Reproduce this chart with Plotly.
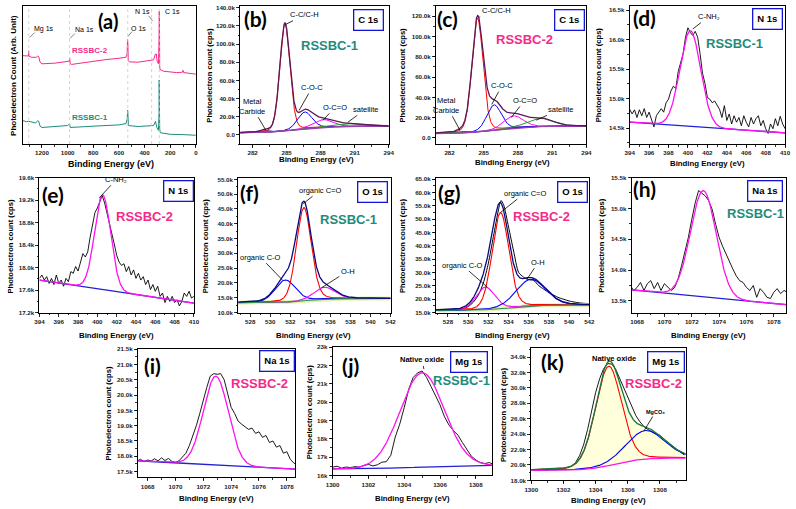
import numpy as np
import plotly.graph_objects as go

W, H = 796, 509
FONT = "Liberation Sans, Arial, sans-serif"
LFONT = "Lato, Liberation Sans, sans-serif"
PINK = "#f52a8a"
TEAL = "#1e8c7c"

# ---------------- DATA ----------------
# (a) survey, arbitrary units
survey2_be = [1350,1320,1306,1304,1301,1280,1245,1232,1225,1215,1200,1100,1000,988,984,980,970,900,800,700,600,545,536,533,530,527,520,450,400,330,315,308,302,292,287,286,284,282,278,250,200,150,105,100,95,50,0]
survey2_cnt = [272,271,271,287,270,267,267,271,269,252,247,249,253,255,265,247,245,249,255,260,264,267,277,322,309,257,253,252,255,259,277,277,255,247,327,409,402,237,229,224,221,220,221,227,220,218,215]
survey1_be = [1350,1320,1304,1250,1232,1225,1215,1200,1000,985,980,900,800,600,545,535,532,529,526,450,330,315,305,292,287,286,284,282,278,200,100,0]
survey1_cnt = [72,69,70,65,72,70,55,51,57,62,51,52,55,59,63,77,104,87,57,54,57,70,52,42,97,197,187,47,35,30,29,27]
survey_lines_be = [1303, 985, 531, 345, 285]
survey_labels = ["Mg 1s", "Na 1s", "O 1s", "N 1s", "C 1s"]

# (b) C 1s RSSBC-1 fit components
b_names = ["Metal Carbide", "C-C/C-H", "C-O-C", "O-C=O", "satellite"]
b_center = [283.1, 284.85, 286.6, 288.2, 290.6]
b_fwhm = [0.8, 1.05, 1.5, 2.0, 3.0]
b_height = [1800, 118000, 18500, 8500, 3000]
b_bg = [2300, 9600, 286.0, 1.3]
# (c) C 1s RSSBC-2
c_names = ["Metal Carbide", "C-C/C-H", "C-O-C", "O-C=O", "satellite"]
c_center = [283.0, 284.45, 285.9, 287.6, 289.9]
c_fwhm = [0.8, 1.15, 1.5, 2.0, 2.6]
c_height = [1500, 112000, 25000, 12000, 8000]
c_bg = [4200, 11800, 286.2, 1.4]
# (d) N 1s RSSBC-1
d_cps = [14820,14740,14810,14680,14810,14710,14830,14680,14770,14660,
         14520,14710,14770,14830,14770,14930,14990,15130,15210,15170,
         15460,15600,15760,16040,16200,16120,16070,16140,16040,15760,
         15430,15260,15020,14990,14930,14960,14900,14820,14680,14880,
         14630,14740,14570,14710,14600,14680,14540,14710,14600,14520,
         14680,14570,14660,14710,14540,14630,14490,14410,14570,14490,
         14660,14540,14700,14570,14490]
d_peak = [400.25, 2.5, 1620]
d_bg = [14600, 14420]
# (e) N 1s RSSBC-2
e_cps = [17810,17870,17780,17840,17720,17810,17700,17870,17720,17780,
         17670,17810,17750,17930,17900,18020,17940,18100,18250,18190,
         18280,18540,18740,18980,19060,19180,19280,19150,18980,18800,
         18600,18420,18220,18100,18040,18070,17930,18020,17870,17960,
         17810,17900,17780,17840,17700,17780,17610,17700,17580,17670,
         17490,17550,17380,17490,17400,17490,17380,17430,17320,17400,
         17550,17490,17580,17460,17490]
e_peak = [400.55, 1.95, 1680]
e_bg = [17780, 17370]
# (f) O 1s RSSBC-1
f_names = ["organic C-O", "organic C=O", "O-H"]
f_center = [531.5, 533.35, 535.4]
f_fwhm = [2.4, 1.75, 2.4]
f_height = [7500, 31500, 4000]
f_bg = [13300, 14700, 533.5, 1.0]
# (g) O 1s RSSBC-2
g_be = [527,527.5,528,528.5,529,529.5,530,530.5,531,531.5,532,532.5,533,533.25,533.5,534,534.5,535,535.5,536,536.5,537,537.5,538,538.5,539,539.5,540,540.5,541,541.5,542]
g_cps = [15600,15600,15700,15800,16000,16400,17200,18800,21500,26000,33500,43500,53500,57000,55500,47000,38000,30000,28200,27300,27000,25000,23700,22400,21400,20500,19900,19300,18900,18600,18400,18300]
g_names = ["organic C-O", "organic C=O", "O-H"]
g_center = [531.7, 533.2, 536.2]
g_fwhm = [2.2, 1.95, 3.4]
g_height = [8500, 36000, 10000]
g_bg = [15700, 17800, 534.0, 1.3]
# (h) Na 1s RSSBC-1
h_cps = [13750,13670,13720,13800,13670,13780,13830,13700,13800,13670,
         13780,13720,13670,13720,13860,14070,14290,14530,14820,15090,
         15290,15250,15200,15120,14980,14740,14530,14390,14260,14130,
         14020,13910,13830,13800,13720,13670,13750,13560,13700,13640,
         13560,13540,13640,13700,13620,13670,13640]
h_peak = [1072.85, 2.2, 1720]
h_bg = [13680, 13440]
# (i) Na 1s RSSBC-2
i_cps = [17850,17900,17820,17880,17840,17920,17850,17950,17860,17930,
         17830,17800,17850,17980,18100,18350,18650,19000,19400,19850,
         20250,20620,20700,20680,20700,20500,20050,19600,19400,19150,
         19050,18950,18880,18920,18750,18800,18620,18680,18450,18500,
         18300,18350,18100,18150,17900,17780,17720]
i_peak = [1072.9, 2.1, 2900]
i_bg = [17850, 17580]
# (j) Mg 1s RSSBC-1
j_cps = [16480,16420,16450,16500,16400,16460,16430,16480,16450,16550,
         16600,16520,16580,16720,16750,17100,18100,18800,19700,20700,
         21350,21600,21700,21350,20850,20350,19850,19200,18750,18450,
         18200,17800,17400,17050,16850,16700,16650,16700,16600]
j_peak = [1305.0, 2.9, 5150]
j_bg = [16350, 16560, 1305.0, 1.5]
# (k) Mg 1s RSSBC-2
k_cps = [19350,19300,19380,19320,19400,19330,19360,19420,19350,19550,
         19380,19450,19500,19650,19850,20300,21200,22600,24600,27000,
         29400,31200,32500,33150,33100,32400,31200,29900,28600,27400,
         26400,25600,25000,24600,24300,24050,23850,23300,22900,22550,
         22100,21700,21300]
k_names = ["Native oxide", "MgCO₃"]
k_center = [1304.8, 1307.1]
k_fwhm = [1.9, 2.8]
k_height = [12900, 3700]
k_bg = [19300, 20900, 1305.2, 0.8]

# tick labels
a_xticks = [1200, 1000, 800, 600, 400, 200, 0]
a_xlabels = ["1200", "1000", "800", "600", "400", "200", "0"]
c1s_xticks = [282, 285, 288, 291, 294]
c1s_xlabels = ["282", "285", "288", "291", "294"]
n1s_xticks = [394, 396, 398, 400, 402, 404, 406, 408, 410]
n1s_xlabels = ["394", "396", "398", "400", "402", "404", "406", "408", "410"]
o1s_xticks = [528, 530, 532, 534, 536, 538, 540, 542]
o1s_xlabels = ["528", "530", "532", "534", "536", "538", "540", "542"]
na_xticks = [1068, 1070, 1072, 1074, 1076, 1078]
na_xlabels = ["1068", "1070", "1072", "1074", "1076", "1078"]
mg_xticks = [1300, 1302, 1304, 1306, 1308]
mg_xlabels = ["1300", "1302", "1304", "1306", "1308"]
b_yticks = [0, 20000, 40000, 60000, 80000, 100000, 120000, 140000]
b_ylabels = ["0.0", "20.0k", "40.0k", "60.0k", "80.0k", "100.0k", "120.0k", "140.0k"]
c_yticks = [0, 20000, 40000, 60000, 80000, 100000, 120000]
c_ylabels = ["0.0", "20.0k", "40.0k", "60.0k", "80.0k", "100.0k", "120.0k"]
d_yticks = [14500, 15000, 15500, 16000, 16500]
d_ylabels = ["14.5k", "15.0k", "15.5k", "16.0k", "16.5k"]
e_yticks = [17200, 17600, 18000, 18400, 18800, 19200, 19600]
e_ylabels = ["17.2k", "17.6k", "18.0k", "18.4k", "18.8k", "19.2k", "19.6k"]
f_yticks = [10000, 15000, 20000, 25000, 30000, 35000, 40000, 45000, 50000, 55000]
f_ylabels = ["10.0k", "15.0k", "20.0k", "25.0k", "30.0k", "35.0k", "40.0k", "45.0k", "50.0k", "55.0k"]
g_yticks = [15000, 20000, 25000, 30000, 35000, 40000, 45000, 50000, 55000, 60000, 65000]
g_ylabels = ["15.0k", "20.0k", "25.0k", "30.0k", "35.0k", "40.0k", "45.0k", "50.0k", "55.0k", "60.0k", "65.0k"]
h_yticks = [13500, 14000, 14500, 15000, 15500]
h_ylabels = ["13.5k", "14.0k", "14.5k", "15.0k", "15.5k"]
i_yticks = [17500, 18000, 18500, 19000, 19500, 20000, 20500, 21000, 21500]
i_ylabels = ["17.5k", "18.0k", "18.5k", "19.0k", "19.5k", "20.0k", "20.5k", "21.0k", "21.5k"]
j_yticks = [16000, 17000, 18000, 19000, 20000, 21000, 22000, 23000]
j_ylabels = ["16k", "17k", "18k", "19k", "20k", "21k", "22k", "23k"]
k_yticks = [18000, 20000, 22000, 24000, 26000, 28000, 30000, 32000, 34000]
k_ylabels = ["18.0k", "20.0k", "22.0k", "24.0k", "26.0k", "28.0k", "30.0k", "32.0k", "34.0k"]

# ---------------- helpers ----------------
def pv(x, c, fwhm, h, eta=0.15):
    s = fwhm / 2.3548
    return h * ((1 - eta) * np.exp(-(x - c) ** 2 / (2 * s * s)) + eta / (1 + ((x - c) / (fwhm / 2)) ** 2))

def step_bg(x, lo, hi, mid, w):
    return lo + (hi - lo) / (1 + np.exp(-(x - mid) / w))

def lin_bg(x, v0, v1):
    return v0 + (v1 - v0) * (x - x[0]) / (x[-1] - x[0])

def ax_ids(n):
    return ("x", "y") if n == 1 else (f"x{n}", f"y{n}")

fig = go.Figure()
layout = dict(width=W, height=H, margin=dict(l=0, r=0, t=0, b=0),
              paper_bgcolor="white", plot_bgcolor="white", showlegend=False,
              font=dict(family=FONT))
annotations = []
shapes = []
P = {}

def to_px(n, xv, yv):
    box, xr, yr = P[n]
    x0, y0, x1, y1 = box
    px = x0 + (xv - xr[0]) / (xr[1] - xr[0]) * (x1 - x0)
    py = y1 - (yv - yr[0]) / (yr[1] - yr[0]) * (y1 - y0)
    return px, py

def setup(n, box, xr, yr, xtv, xtt, xstep, ytv=None, ytt=None, ystep=None):
    P[n] = (box, xr, yr)
    x0, y0, x1, y1 = box
    xa, ya = ax_ids(n)
    tf = dict(family=FONT, size=6.2, color="#222", weight="bold")
    common = dict(showline=True, linecolor="black", linewidth=1, mirror=True,
                  ticks="outside", ticklen=3, tickwidth=0.8, tickcolor="black",
                  showgrid=False, zeroline=False, tickfont=tf, fixedrange=True)
    layout["xaxis" if n == 1 else f"xaxis{n}"] = dict(
        common, domain=[x0 / W, x1 / W], range=xr, anchor=ya,
        tickmode="array", tickvals=xtv, ticktext=xtt,
        minor=dict(ticks="outside", ticklen=1.5, tickcolor="black", dtick=xstep / 2, tick0=xtv[0]))
    if ytv is None:
        layout["yaxis" if n == 1 else f"yaxis{n}"] = dict(
            common, domain=[1 - y1 / H, 1 - y0 / H], range=yr, anchor=xa,
            ticks="", showticklabels=False)
    else:
        layout["yaxis" if n == 1 else f"yaxis{n}"] = dict(
            common, domain=[1 - y1 / H, 1 - y0 / H], range=yr, anchor=xa,
            tickmode="array", tickvals=ytv, ticktext=ytt,
            minor=dict(ticks="outside", ticklen=1.5, tickcolor="black", dtick=ystep / 2, tick0=ytv[0]))

def line(n, x, y, color, width=1.0, **kw):
    xa, ya = ax_ids(n)
    fig.add_trace(go.Scatter(x=x, y=y, mode="lines", line=dict(color=color, width=width, **kw.pop("lk", {})),
                             xaxis=xa, yaxis=ya, hoverinfo="skip", **kw))

def txt(px, py, text, size, color="black", bold=False, family=FONT, **kw):
    annotations.append(dict(x=px / W, y=1 - py / H, xref="paper", yref="paper", text=text,
                            showarrow=False, xanchor="center", yanchor="middle",
                            font=dict(family=family, size=size, color=color,
                                      weight="bold" if bold else "normal"), **kw))

def boxlabel(px, py, text):
    txt(px, py, text, 9.5, bold=True, bordercolor="#1515d8", borderwidth=1.3, borderpad=4, bgcolor="white")

def letter(px, py, text, size=21):
    txt(px, py, text, size, bold=True, family=LFONT)

def arrow(n, xv, yv, tpx, tpy, text, size=7.5, bold=False):
    px, py = to_px(n, xv, yv)
    xa, ya = ax_ids(n)
    annotations.append(dict(x=xv, y=yv, xref=xa, yref=ya, ax=tpx - px, ay=tpy - py, text=text,
                            showarrow=True, arrowhead=0, arrowwidth=0.8, arrowcolor="black", standoff=0,
                            font=dict(family=FONT, size=size, color="black",
                                      weight="bold" if bold else "normal")))

def ytitle(px, pyc, text, size=7.6):
    txt(px, pyc, text, size, bold=True, textangle=-90)

def xtitle(pxc, py, text="Binding Energy (eV)", size=7.8):
    txt(pxc, py, text, size, bold=True)

# ---------------- (a) survey ----------------
setup(1, (16, 2, 192, 142), [1350, 0], [0, 425], a_xticks, a_xlabels, 200)
for be in survey_lines_be:
    shapes.append(dict(type="line", xref="x", yref="y domain", x0=be, x1=be, y0=0, y1=1,
                       line=dict(color="#c8c8c8", width=0.8, dash="dot")))
line(1, survey2_be, survey2_cnt, PINK, 1.0)
line(1, survey1_be, survey1_cnt, TEAL, 1.0)
letter(103, 17, "(a)", 20)
for lab, (lx, ly) in zip(survey_labels, [(38, 25), (79, 26), (134, 25), (138, 8), (168, 8)]):
    txt(lx, ly, lab, 7)
for (xa0, ya0, xa1, ya1) in [(23, 34, 28, 29), (64, 35, 69, 30), (123, 33, 127, 28), (144, 12, 148, 17)]:
    shapes.append(dict(type="line", xref="paper", yref="paper", x0=xa0 / W, y0=1 - ya0 / H,
                       x1=xa1 / W, y1=1 - ya1 / H, line=dict(color="#555", width=0.7)))
txt(84, 47, "RSSBC-2", 8, PINK, True)
txt(84, 115, "RSSBC-1", 8, TEAL, True)
ytitle(6, 72, "Photoelectron Count (Arb. Unit)", 8)
xtitle(106, 162, size=9)

# ---------------- C 1s panels ----------------
def c1s_panel(n, box, xr, yr, yt, yl, names, cen, fw, hts, bgp, letter_pos, lab, labcol, labpos, boxpos, arrows):
    setup(n, box, xr, yr, c1s_xticks, c1s_xlabels, 3, yt, yl, 20000)
    x = np.linspace(xr[0], xr[1], 700)
    bg = step_bg(x, *bgp)
    cols = ["#1a1a80", "#ff0000", "#0000ff", "#ff00ff", "#1fa01f"]
    env = bg.copy()
    for c, w, h, col in zip(cen, fw, hts, cols):
        comp = pv(x, c, w, h)
        env = env + comp
        line(n, x, bg + comp, col, 1.0)
    line(n, x, bg, "#9b3fb5", 1.3)
    line(n, x, env, "#5a1a5a", 1.3)
    letter(*letter_pos, "(" + chr(96 + n) + ")")
    txt(labpos[0], labpos[1], lab, 13, labcol, True)
    boxlabel(boxpos[0], boxpos[1], "C 1s")
    for a in arrows:
        arrow(n, *a)

c1s_panel(2, (237, 2, 388, 142), [280.9, 294], [-10000, 142000], b_yticks, b_ylabels,
          b_names, b_center, b_fwhm, b_height, b_bg, (253, 15), "RSSBC-1", TEAL, (328, 42), (368, 16),
          [(284.9, 121500, 302, 11, "C-C/C-H"), (286.1, 27000, 310, 85, "C-O-C"),
           (283.16, 5400, 249, 104, "Metal<br>Carbide"), (288.2, 16000, 333, 105, "O-C=O"),
           (290.4, 14000, 364, 107, "satellite")])
ytitle(205, 72, "Photoelectron count (cps)")
xtitle(315, 158)

c1s_panel(3, (436, 2, 589, 142), [280.8, 294], [-6000, 130000], c_yticks, c_ylabels,
          c_names, c_center, c_fwhm, c_height, c_bg, (448, 15), "RSSBC-2", PINK, (526, 36), (572, 16),
          [(284.6, 119000, 497, 7, "C-C/C-H"), (285.7, 33000, 503, 83, "C-O-C"),
           (282.9, 7800, 447, 103, "Metal<br>Carbide"), (287.4, 20000, 526, 98, "O-C=O"),
           (289.6, 17500, 562, 107, "satellite")])
ytitle(402, 72, "Photoelectron count (cps)")
xtitle(514, 161)

# ---------------- single-peak panels ----------------
def single_panel(n, box, xr, yr, xt, xl, yt, yl, ystep, be, cps, peak, bgline, logistic=False):
    setup(n, box, xr, yr, xt, xl, 2, yt, yl, ystep)
    x = np.linspace(xr[0], xr[1], 500)
    if logistic:
        bg = step_bg(x, *bgline)
    else:
        bg = lin_bg(x, *bgline)
    line(n, be, cps, "black", 0.9)
    line(n, x, bg, "#2020d8", 1.3)
    line(n, x, bg + pv(x, peak[0], peak[1], peak[2], 0.0), "#ff10f0", 1.3)

single_panel(4, (633, 2, 791, 142), [394, 410], [14230, 16570], n1s_xticks, n1s_xlabels, d_yticks, d_ylabels, 500,
             np.linspace(394, 410, len(d_cps)), d_cps, d_peak, d_bg)
letter(648, 14, "(d)")
txt(740, 40, "RSSBC-1", 13, TEAL, True)
boxlabel(773, 15, "N 1s")
arrow(4, 400.5, 16180, 713, 13, "C-NH₂")
ytitle(601, 72, "Photoelectron count (cps)")
xtitle(712, 162)

single_panel(5, (33, 176, 190, 313), [394, 410], [17200, 19600], n1s_xticks, n1s_xlabels, e_yticks, e_ylabels, 400,
             np.linspace(394, 410, len(e_cps)), e_cps, e_peak, e_bg)
letter(47, 193, "(e)")
txt(140, 215, "RSSBC-2", 13, PINK, True)
boxlabel(174, 190, "N 1s")
arrow(5, 400.2, 19240, 111, 178, "C-NH₂")
ytitle(4, 245, "Photoelectron count (cps)")
xtitle(111, 336)

# ---------------- O 1s panels ----------------
def o1s_panel(n, box, xr, yr, yt, yl, cen, fw, hts, cols, bgp, be=None, cps=None):
    setup(n, box, xr, yr, o1s_xticks, o1s_xlabels, 2, yt, yl, 5000)
    x = np.linspace(xr[0], xr[1], 600)
    bg = step_bg(x, *bgp)
    env = bg.copy()
    if be is not None:
        line(n, be, cps, "black", 1.0, lk=dict(shape="spline", smoothing=0.7))
    line(n, x, bg, "rgba(225,238,150,0.8)", 4)
    for c, w, h, col in zip(cen, fw, hts, cols):
        comp = pv(x, c, w, h)
        env = env + comp
        line(n, x, bg + comp, col, 1.1)
    line(n, x, bg, "#2e8b57", 1.1)
    line(n, x, env, "#0a0a80", 1.3)

o1s_panel(6, (235, 176, 390, 313), [526.8, 542], [9900, 55600], f_yticks, f_ylabels,
          f_center, f_fwhm, f_height, ["#0000ff", "#ff0000", "#ff00ff"], f_bg)
letter(247, 191, "(f)")
txt(347, 218, "RSSBC-1", 13, TEAL, True)
boxlabel(372, 191, "O 1s")
arrow(6, 533.3, 46800, 318, 189, f_names[1])
arrow(6, 531.2, 21000, 258, 257, f_names[0])
arrow(6, 535.1, 18300, 346, 271, f_names[2])
ytitle(202, 245, "Photoelectron count (cps)")
xtitle(312, 336)

o1s_panel(7, (436, 176, 592, 313), [526.8, 542], [14900, 65600], g_yticks, g_ylabels,
          g_center, g_fwhm, g_height, ["#ff00ff", "#ff0000", "#0000ff"], g_bg, g_be, g_cps)
letter(450, 191, "(g)")
txt(543, 215, "RSSBC-2", 13, PINK, True)
boxlabel(575, 191, "O 1s")
arrow(7, 533.2, 52500, 526, 192, g_names[1])
arrow(7, 531.9, 24500, 463, 265, g_names[0])
arrow(7, 535.8, 27300, 540, 262, g_names[2])
ytitle(402, 245, "Photoelectron count (cps)")
xtitle(514, 336)

# ---------------- Na 1s panels ----------------
single_panel(8, (635, 176, 792, 313), [1067.6, 1078.9], [13310, 15500], na_xticks, na_xlabels, h_yticks, h_ylabels, 500,
             np.linspace(1067.5, 1079.0, len(h_cps)), h_cps, h_peak, h_bg)
letter(648, 187, "(h)")
txt(761, 212, "RSSBC-1", 13, TEAL, True)
boxlabel(771, 190, "Na 1s")
ytitle(604, 245, "Photoelectron count (cps)")
xtitle(713, 336)

single_panel(9, (133, 350, 293, 480), [1067.3, 1078.6], [17310, 21500], na_xticks, na_xlabels, i_yticks, i_ylabels, 500,
             np.linspace(1067.25, 1078.75, len(i_cps)), i_cps, i_peak, i_bg)
letter(148, 367, "(i)")
txt(257, 385, "RSSBC-2", 13, PINK, True)
boxlabel(274, 362, "Na 1s")
ytitle(103, 415, "Photoelectron count (cps)")
xtitle(213, 501)

# ---------------- Mg 1s panels ----------------
single_panel(10, (331, 348, 493, 478), [1300.0, 1308.9], [16000, 23000], mg_xticks, mg_xlabels, j_yticks, j_ylabels, 1000,
             np.linspace(1299.5, 1309.0, len(j_cps)), j_cps, j_peak, j_bg, logistic=True)
letter(349, 367, "(j)")
txt(462, 382, "RSSBC-1", 13, TEAL, True)
boxlabel(470, 363, "Mg 1s")
arrow(10, 1305.1, 21800, 422, 361, "Native oxide", 7.5, True)
ytitle(307, 413, "Photoelectron count (cps)")
xtitle(412, 501)

setup(11, (533, 349, 690, 483), [1300.0, 1309.6], [18000, 35150], mg_xticks, mg_xlabels, 2, k_yticks, k_ylabels, 2000)
xk = np.linspace(1300.0, 1309.6, 500)
bgk = step_bg(xk, *k_bg)
envk = bgk.copy()
compsk = []
for c, w, h in zip(k_center, k_fwhm, k_height):
    comp = pv(xk, c, w, h)
    compsk.append(comp)
    envk = envk + comp
line(11, xk, bgk, "rgba(0,0,0,0)", 0.5)
line(11, xk, envk, "rgba(0,0,0,0)", 0.5, fill="tonexty", fillcolor="rgba(255,255,190,0.55)")
line(11, np.linspace(1299.0, 1309.5, len(k_cps)), k_cps, "black", 0.9)
line(11, xk, bgk + compsk[0], "#ff0000", 1.1)
line(11, xk, bgk + compsk[1], "#0000ff", 1.1)
line(11, xk, bgk, "#ff10f0", 1.3)
line(11, xk, envk, "#137a3a", 1.3)
letter(555, 362, "(k)")
txt(657, 385, "RSSBC-2", 13, PINK, True)
boxlabel(670, 363, "Mg 1s")
txt(617, 359, k_names[0], 7.5, bold=True)
arrow(11, 1307.0, 24400, 659, 414, k_names[1], 5.5, True)
ytitle(505, 416, "Photoelectron count (cps)")
xtitle(611, 503)

layout["annotations"] = annotations
layout["shapes"] = shapes
fig.update_layout(**layout)
fig.write_html("out.html", config={"displayModeBar": False, "staticPlot": True},
               post_script="document.body.style.margin='0px';document.body.style.padding='0px';document.body.style.overflow='hidden';")
